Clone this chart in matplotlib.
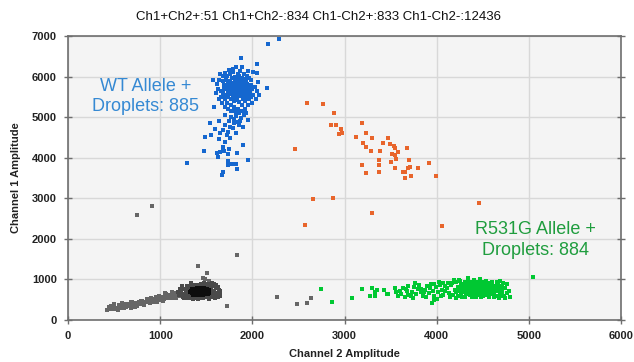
import matplotlib
matplotlib.use("Agg")
import matplotlib.pyplot as plt
import numpy as np

# droplet amplitudes (Channel 2, Channel 1)
wt_core = [  # Ch1+ Ch2- (blue), dense part
    (1783, 5612), (1806, 5663), (1824, 5707), (1847, 5741), (1862, 5688), (1884, 5627), (1903, 5734), (1768, 5718), (1795, 5772), (1812, 5553),
    (1833, 5631), (1856, 5592), (1874, 5768), (1893, 5815), (1771, 5847), (1753, 5668), (1807, 5873), (1846, 5866), (1914, 5604), (1927, 5857),
    (1787, 5517), (1826, 5493), (1865, 5531), (1906, 5493), (1763, 5565), (1741, 5761), (1734, 5627), (1797, 5705), (1835, 5806), (1877, 5882),
    (1816, 5768), (1853, 5675), (1887, 5725), (1824, 5908), (1762, 5893), (1904, 5786), (1946, 5683), (1943, 5567), (1722, 5707), (1803, 5598),
    (1845, 5547), (1866, 5806), (1784, 5661), (1827, 5645), (1885, 5553), (1924, 5646), (1754, 5806), (1852, 5905), (1794, 5497), (1906, 5905),
    (1836, 5722), (1872, 5615), (1815, 5827), (1776, 5625), (1896, 5687), (1843, 5656), (1864, 5745), (1805, 5752), (1823, 5584), (1782, 5747),
    (1627, 5703), (1643, 5906), (1664, 5507), (1685, 6004), (1703, 5446), (1706, 6097), (1723, 5357), (1746, 6153), (1766, 5303), (1787, 6196),
    (1804, 5254), (1826, 6247), (1847, 5205), (1865, 6146), (1886, 5306), (1904, 6055), (1925, 5396), (1947, 6003), (1964, 5455), (1986, 5907),
    (2006, 5557), (2024, 5748), (2047, 5654), (2063, 5857), (1993, 5706), (1976, 5803), (1965, 5955), (2004, 6106), (1955, 6147), (1885, 6246),
    (1756, 6055), (1694, 5795), (1655, 5655), (1634, 5456), (1673, 5345), (1735, 5206), (1796, 5146), (1854, 5105), (1916, 5206), (1956, 5295),
    (1994, 5357), (2036, 5444), (2074, 5556), (1604, 5603), (1616, 5807), (1686, 5596), (1715, 5905), (1735, 5506), (1966, 5605), (1984, 5496),
    (1706, 5256), (1765, 5154), (1826, 5106), (1884, 5147), (1936, 5104), (1785, 6105), (1846, 6054), (1726, 6004), (1925, 5946), (1654, 6055),
    (1706, 5047), (1764, 5004), (1826, 5025), (1874, 4985), (1906, 5054), (1806, 4946), (1745, 4906), (1864, 4904), (1796, 4854), (1836, 4884),
    (1812, 5683), (1838, 5688), (1857, 5712), (1792, 5637), (1871, 5655), (1818, 5741), (1849, 5622), (1827, 5669), (1798, 5722), (1878, 5695),
    (1763, 5682), (1908, 5655), (1832, 5764), (1851, 5797), (1788, 5808), (1921, 5748), (1745, 5592), (1865, 5573), (1807, 5528), (1893, 5585),
    (1718, 5785), (1958, 5738), (1696, 5688), (1975, 5642), (1702, 5556), (1944, 5826), (1777, 5955), (1888, 5955), (1731, 5863), (1815, 5985),
    (1859, 6012), (1764, 5441), (1833, 5418), (1896, 5436), (1678, 5882), (1986, 5803), (1948, 5507), (1713, 5487), (1796, 5386), (1857, 5375),
]

wt_tail = [  # Ch1+ Ch2- (blue), sparse lower tail and strays
    (1540, 4860), (1486, 4515), (1551, 4557), (1649, 4613), (1685, 4680), (1739, 4638), (1793, 4721), (1902, 4762), (1956, 4926), (1641, 4450),
    (1703, 4392), (1757, 4490), (1902, 4310), (1678, 4204), (1750, 4212), (1475, 4163), (1613, 4105), (1836, 4105), (1956, 3948), (1294, 3867),
    (1678, 4270), (1649, 4138), (1692, 4170), (1739, 4081), (1623, 4015), (1735, 3924), (1782, 3842), (1819, 3835), (1735, 3810), (1836, 3712),
    (1678, 3653), (1667, 3564), (1873, 6461), (2053, 6322), (2053, 6090), (2155, 5730), (1576, 5911), (1587, 5254), (2173, 6798), (2285, 6938),
    (1700, 4800), (1760, 4760), (1640, 4900), (1850, 4800), (1720, 4550), (1820, 4600), (1600, 4700),
]

both_pts = [  # Ch1+ Ch2+ (orange)
    (2596, 5337), (2769, 5320), (2888, 5106), (2852, 4795), (2903, 4795), (2957, 4697), (2943, 4581), (2968, 4598), (3192, 4860), (3229, 4614),
    (3124, 4500), (3203, 4368), (3232, 4269), (3297, 4483), (3467, 4483), (3420, 4368), (3492, 4328), (3539, 4286), (3550, 4229), (3286, 4170),
    (3381, 4170), (3585, 4138), (3680, 4236), (3518, 4089), (3547, 4064), (3554, 3958), (3373, 3941), (3500, 3884), (3702, 3941), (3912, 3867),
    (3185, 3810), (3373, 3826), (3547, 3744), (3691, 3736), (3713, 3768), (3796, 3744), (3235, 3629), (3373, 3653), (3637, 3653), (3658, 3653),
    (3717, 3555), (3655, 3498), (3988, 3555), (2459, 4212), (2657, 2972), (2877, 3005), (3297, 2627), (2574, 2332), (4060, 2315), (4458, 2874),
]

neg_core = [  # Ch1- Ch2- dense centre
    (1336, 703), (1358, 657), (1383, 722), (1404, 684), (1421, 743), (1446, 697), (1463, 662), (1487, 718), (1506, 688), (1364, 746),
    (1377, 648), (1402, 764), (1426, 636), (1443, 773), (1465, 734), (1484, 646), (1507, 752), (1346, 676), (1372, 704), (1393, 697),
    (1414, 713), (1436, 668), (1455, 693), (1474, 705), (1495, 677), (1413, 617), (1428, 784), (1456, 627), (1387, 628), (1477, 764),
    (1347, 724), (1366, 765), (1395, 744), (1416, 684), (1437, 724), (1456, 746), (1475, 636), (1496, 726), (1517, 706), (1327, 694),
    (1527, 676), (1364, 703), (1386, 676), (1405, 727), (1424, 697), (1445, 656), (1467, 706), (1486, 684), (1404, 654), (1447, 736),
    (1356, 627), (1378, 606), (1396, 786), (1434, 794), (1478, 786), (1516, 645), (1526, 744), (1341, 757), (1357, 775), (1466, 612),
]

neg_halo = [  # Ch1- Ch2- ring around the dense centre
    (1203, 624), (1224, 697), (1243, 563), (1256, 757), (1264, 646), (1283, 604), (1287, 796), (1303, 537), (1306, 703), (1314, 846),
    (1322, 616), (1336, 553), (1345, 826), (1353, 516), (1366, 874), (1384, 536), (1394, 856), (1405, 507), (1425, 866), (1434, 536),
    (1446, 884), (1464, 545), (1476, 846), (1485, 556), (1503, 825), (1514, 577), (1526, 796), (1544, 615), (1547, 766), (1564, 686),
    (1566, 556), (1574, 826), (1585, 726), (1594, 616), (1604, 785), (1616, 676), (1624, 576), (1636, 745), (1645, 655), (1653, 706),
    (1236, 626), (1275, 726), (1294, 656), (1317, 786), (1556, 856), (1583, 896), (1535, 515), (1254, 544), (1214, 766), (1296, 846),
    (1606, 866), (1625, 825), (1646, 596), (1565, 906), (1474, 915), (1336, 905), (1193, 685), (1234, 826), (1596, 535), (1514, 886),
    (1296, 692), (1556, 697), (1285, 637), (1575, 662), (1357, 583), (1515, 595), (1437, 575), (1398, 577), (1548, 804), (1315, 806),
    (1317, 655), (1338, 616), (1384, 810), (1426, 814), (1466, 800), (1536, 637), (1543, 752), (1306, 748), (1324, 604), (1476, 588),
]

neg_pts = [  # Ch1- Ch2- tail and strays
    (423, 247), (447, 318), (468, 276), (503, 352), (527, 296), (541, 252), (566, 334), (584, 388), (603, 306), (627, 362),
    (644, 405), (662, 333), (687, 296), (706, 384), (724, 428), (743, 355), (767, 447), (788, 397), (803, 468), (826, 376),
    (845, 437), (864, 489), (887, 414), (906, 509), (925, 452), (946, 528), (964, 443), (987, 548), (1005, 486), (1028, 572),
    (1043, 513), (1066, 594), (1085, 532), (1104, 617), (1126, 548), (1146, 633), (1163, 566), (1185, 654), (466, 354), (514, 262),
    (574, 296), (634, 318), (696, 433), (756, 386), (814, 426), (874, 455), (934, 492), (996, 508), (1054, 545), (1113, 588),
    (1154, 676), (1067, 652), (955, 571), (853, 516), (725, 324), (614, 392), (484, 291), (553, 372), (1175, 548), (1026, 462),
    (1208, 602), (1226, 672), (1132, 701), (1047, 667), (982, 602), (896, 548), (788, 477), (678, 445), (587, 412), (498, 383),
    (1830, 1601), (1414, 1338), (1504, 1150), (1721, 345), (1468, 1027), (750, 2590), (910, 2800), (2270, 574), (2480, 394), (2588, 411),
    (2632, 534), (1490, 1000), (1530, 950),
]

mut_pts = [  # Ch1- Ch2+ (green)
    (4253, 763), (4284, 818), (4302, 697), (4326, 784), (4343, 857), (4364, 738), (4383, 676), (4405, 803), (4421, 884), (4446, 716),
    (4463, 786), (4485, 837), (4506, 693), (4524, 758), (4547, 826), (4563, 683), (4584, 737), (4605, 806), (4626, 714), (4647, 783),
    (4276, 687), (4293, 886), (4314, 636), (4337, 717), (4354, 804), (4375, 903), (4393, 757), (4416, 655), (4436, 817), (4453, 906),
    (4476, 685), (4495, 754), (4513, 864), (4537, 657), (4554, 745), (4573, 866), (4596, 697), (4614, 764), (4636, 845), (4656, 703),
    (4264, 855), (4306, 754), (4345, 686), (4387, 846), (4426, 735), (4464, 857), (4505, 806), (4544, 715), (4587, 803), (4624, 655),
    (4286, 745), (4325, 846), (4366, 795), (4404, 725), (4445, 776), (4484, 697), (4526, 817), (4565, 784), (4606, 735), (4644, 826),
    (4243, 705), (4356, 695), (4454, 664), (4556, 904), (4474, 945), (4386, 936), (4305, 925), (4416, 846), (4534, 705), (4495, 895),
    (4114, 784), (4136, 676), (4155, 865), (4174, 615), (4196, 745), (4205, 926), (4226, 596), (4234, 825), (4214, 695), (4185, 975),
    (4256, 965), (4274, 556), (4336, 986), (4364, 605), (4406, 996), (4425, 574), (4465, 1014), (4506, 596), (4535, 966), (4564, 576),
    (4604, 935), (4645, 604), (4664, 876), (4686, 644), (4694, 765), (4706, 846), (4714, 695), (4735, 604), (4746, 786), (4764, 655),
    (4784, 726), (4796, 565), (4725, 906), (4686, 955), (4654, 944), (4165, 916), (4146, 556), (4304, 576), (4585, 645), (4744, 546),
    (4125, 905), (4344, 1026), (4246, 995), (4766, 884), (4675, 545), (4486, 565), (4385, 555), (4206, 545), (4624, 575), (4705, 604),
    (4296, 806), (4334, 763), (4372, 825), (4412, 775), (4438, 852), (4474, 808), (4516, 735), (4552, 784), (4595, 845), (4635, 765),
    (4315, 735), (4357, 862), (4396, 694), (4434, 703), (4475, 742), (4518, 692), (4563, 826), (4613, 695), (4667, 745), (4276, 806),
    (4347, 925), (4427, 925), (4512, 936), (4595, 904), (4676, 814), (4233, 764), (4263, 624), (4366, 634), (4456, 625), (4546, 625),
    (3614, 653), (3633, 787), (3652, 556), (3674, 726), (3693, 846), (3716, 604), (3733, 696), (3754, 806), (3772, 644), (3796, 765),
    (3812, 866), (3834, 686), (3856, 584), (3873, 745), (3894, 826), (3915, 663), (3933, 896), (3956, 725), (3974, 604), (3993, 806),
    (4012, 684), (4035, 866), (4053, 745), (4074, 624), (4094, 826), (3765, 905), (3886, 565), (3966, 486), (4004, 524), (3686, 605),
    (3944, 424), (4026, 946), (3826, 764), (4065, 915), (3746, 545), (4045, 596), (3925, 784), (3865, 684), (4085, 706), (3976, 886),
    (2741, 756), (2866, 443), (3077, 549), (3185, 756), (3275, 591), (3330, 698), (3348, 739), (3456, 633), (3547, 780), (3557, 682),
    (3583, 591), (3666, 756), (3684, 616), (5047, 1051), (3293, 780), (3431, 739), (3474, 640), (3601, 722), (3330, 591),
]

title = "Ch1+Ch2+:51 Ch1+Ch2-:834 Ch1-Ch2+:833 Ch1-Ch2-:12436"
wt_label = "WT Allele +\nDroplets: 885"
mut_label = "R531G Allele +\nDroplets: 884"

x_ticks = [0, 1000, 2000, 3000, 4000, 5000, 6000]
y_ticks = [0, 1000, 2000, 3000, 4000, 5000, 6000, 7000]

plt.rcParams["font.family"] = ["Liberation Sans", "DejaVu Sans"]

fig = plt.figure(figsize=(6.34, 3.62), dpi=100)
ax = fig.add_axes([0.1073, 0.116, 0.8722, 0.7845])
ax.set_facecolor("#f4f4f4")


def draw(points, color, size=5):
    pts = np.array(points)
    ax.scatter(pts[:, 0], pts[:, 1], s=size, marker="s", c=color, linewidths=0, zorder=3)


draw(neg_pts, "#666666", size=5)
draw(neg_halo, "#4a4a4a", size=10)
draw(neg_core, "#0d0d0d", size=11)
draw(mut_pts, "#00c832", size=6)
draw(wt_tail, "#1567cf", size=6)
draw(wt_core, "#1567cf", size=7)
draw(both_pts, "#e8652c", size=6)

ax.set_xlim(0, 6000)
ax.set_ylim(0, 7000)
ax.set_xticks(x_ticks)
ax.set_yticks(y_ticks)
ax.grid(True, color="#d8d8d8", linewidth=1, zorder=0)
ax.set_axisbelow(True)

for side in ["left", "bottom", "right", "top"]:
    ax.spines[side].set_color("#6e6e6e")
    ax.spines[side].set_linewidth(1.2)

ax.tick_params(direction="inout", length=6, width=1, color="#6e6e6e",
               right=True, labelsize=8, labelcolor="#222222", pad=5)
for lbl in ax.get_xticklabels() + ax.get_yticklabels():
    lbl.set_fontweight("bold")

ax.set_xlabel("Channel 2 Amplitude", fontsize=8, fontweight="bold", color="#222222", labelpad=6)
ax.set_ylabel("Channel 1 Amplitude", fontsize=8, fontweight="bold", color="#222222", labelpad=8)

fig.text(319 / 634, 1 - 17 / 362, title, ha="center", va="center", fontsize=9.5, color="#111111")

ax.text(846, 5517, wt_label, ha="center", va="center", fontsize=13, color="#3589d3",
        linespacing=1.25, zorder=4)
ax.text(5076, 1970, mut_label, ha="center", va="center", fontsize=13, color="#1f9d3e",
        linespacing=1.25, zorder=4)

fig.savefig("out.png", dpi=100)
